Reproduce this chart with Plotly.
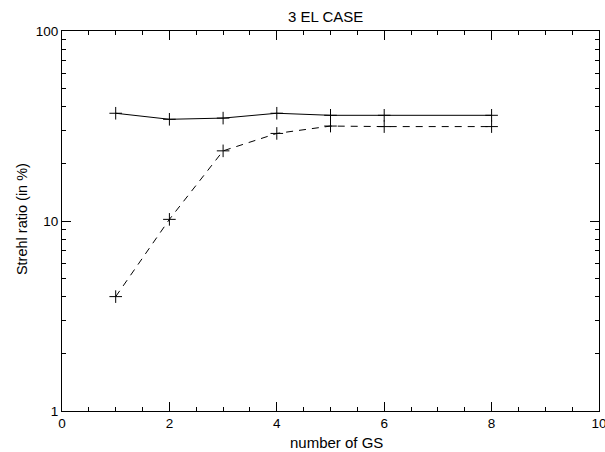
import plotly.graph_objects as go

gs_solid = [1, 2, 3, 4, 5, 6, 8]
strehl_solid = [36.9, 34.3, 34.8, 36.9, 36.0, 36.0, 36.0]
gs_dashed = [1, 2, 3, 4, 5, 6, 8]
strehl_dashed = [4.0, 10.2, 23.4, 28.9, 31.6, 31.4, 31.4]

x_ticks = [0, 2, 4, 6, 8, 10]
x_minor = [0.5 * i for i in range(21)]
y_ticks = [1, 10, 100]
y_minor = [m * d for d in (1, 10) for m in range(2, 10)]

chart_title = "3 EL CASE"
x_title = "number of GS"
y_title = "Strehl ratio (in %)"

font = "Liberation Sans, Arial, sans-serif"

fig = go.Figure()
fig.add_trace(go.Scatter(
    x=gs_solid, y=strehl_solid, mode="lines+markers",
    line=dict(color="black", width=1),
    marker=dict(symbol="cross-thin", size=9, line=dict(color="black", width=1)),
    showlegend=False))
fig.add_trace(go.Scatter(
    x=gs_dashed, y=strehl_dashed, mode="lines+markers",
    line=dict(color="black", width=1, dash="7px,6px"),
    marker=dict(symbol="cross-thin", size=9, line=dict(color="black", width=1)),
    showlegend=False))

fig.update_layout(
    width=605, height=452,
    margin=dict(l=62, r=6, t=31, b=41, autoexpand=False),
    paper_bgcolor="white", plot_bgcolor="white",
    font=dict(family=font, size=13.5, color="black"),
    xaxis=dict(range=[0, 10], tickvals=x_ticks, ticks="inside", ticklen=9,
               tickcolor="black", showline=True, linecolor="black", linewidth=1,
               mirror="allticks", showgrid=False, zeroline=False, automargin=False,
               ticklabeloverflow="allow", tickfont=dict(size=13.5),
               minor=dict(tickvals=x_minor, ticks="inside", ticklen=4, tickcolor="black", showgrid=False)),
    yaxis=dict(type="log", range=[0, 2], tickvals=y_ticks, ticktext=["1", "10", "100"],
               ticks="inside", ticklen=9, tickcolor="black",
               showline=True, linecolor="black", linewidth=1, mirror="allticks",
               showgrid=False, zeroline=False, automargin=False,
               ticklabeloverflow="allow", tickfont=dict(size=13.5),
               minor=dict(tickvals=y_minor, ticks="inside", ticklen=4, tickcolor="black", showgrid=False)),
    annotations=[
        dict(text=chart_title, xref="paper", yref="paper", x=0.4916, y=1.038,
             xanchor="center", yanchor="middle", showarrow=False, font=dict(size=15)),
        dict(text=x_title, xref="paper", yref="paper", x=0.512, y=-0.0842,
             xanchor="center", yanchor="middle", showarrow=False, font=dict(size=15)),
        dict(text=y_title, xref="paper", yref="paper", x=-0.0745, y=0.505,
             xanchor="center", yanchor="middle", showarrow=False, textangle=-90,
             font=dict(size=14.5)),
    ],
)

fig.write_html(
    "out.html",
    config={"displayModeBar": False},
    post_script="document.body.style.margin='0';document.body.style.overflow='hidden';",
)
